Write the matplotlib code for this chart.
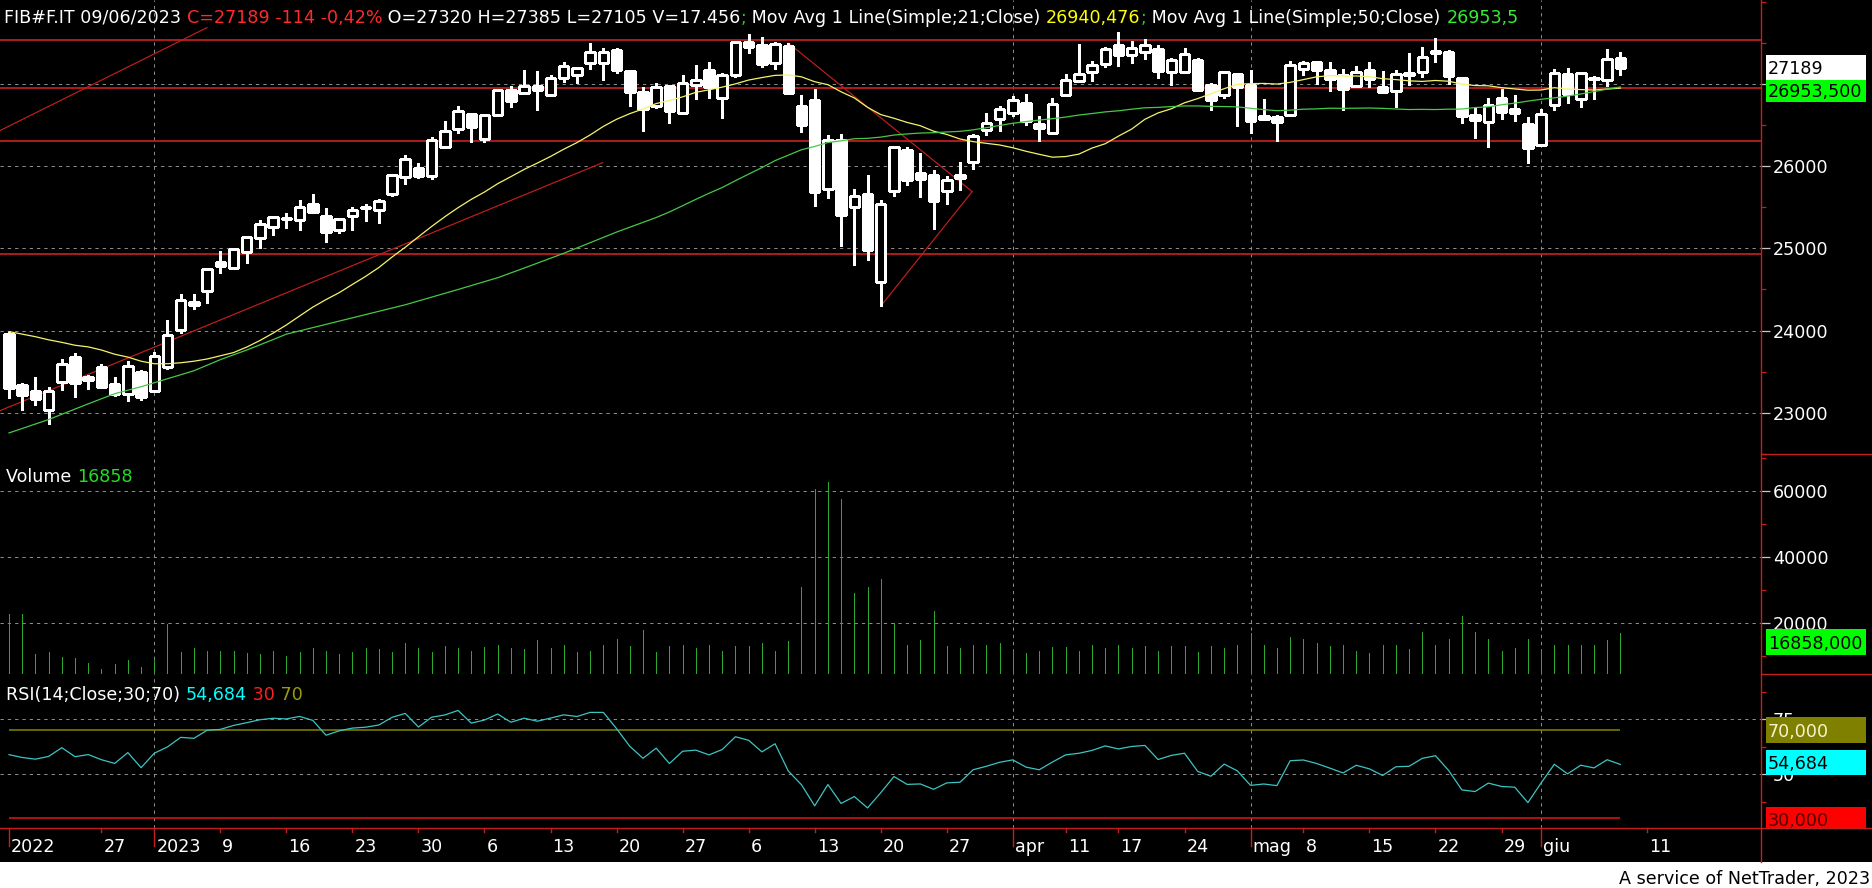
import numpy as np
import matplotlib
matplotlib.use("Agg")
import matplotlib.pyplot as plt
import matplotlib.transforms as mtransforms
from matplotlib.patches import Rectangle
from matplotlib.lines import Line2D
from matplotlib.font_manager import FontProperties

W, H, DPI = 1872, 888, 100
plt.rcParams["font.family"] = ["DejaVu Sans"]
FS = 12.6

# ---- FIB futures, daily sessions 15 Dec 2022 .. 9 Jun 2023 ----
opens = [23957, 23341, 23260, 23031, 23372, 23678, 23403, 23562, 23353, 23233,
         23492, 23267, 23558, 24008, 24314, 24485, 24830, 24767, 24961, 25124,
         25264, 25360, 25345, 25539, 25399, 25217, 25391, 25490, 25461, 25659,
         25868, 25981, 25884, 26229, 26450, 26628, 26333, 26616, 26919, 26891,
         26969, 26868, 27070, 27105, 27256, 27256, 27407, 27155, 26899, 26733,
         26969, 26647, 26988, 27167, 26833, 27112, 27504, 27469, 27256, 27457,
         26736, 26802, 25717, 26314, 25508, 25655, 24589, 25694, 26198, 25919,
         25891, 25698, 25888, 26047, 26434, 26570, 26640, 26767, 26516, 26407,
         26860, 27031, 27147, 27240, 27477, 27345, 27391, 27419, 27147, 27147,
         27291, 26988, 26868, 27116, 26988, 26609, 26593, 26616, 27182, 27267,
         27163, 27105, 26973, 27163, 26965, 26915, 27105, 27147, 27372, 27388,
         27070, 26620, 26535, 26829, 26690, 26516, 26252, 26744, 27116, 26814,
         27070, 27047, 27320]
highs = [23988, 23364, 23434, 23314, 23651, 23725, 23457, 23593, 23430, 23628,
         23527, 23736, 24124, 24442, 24446, 24760, 24965, 24992, 25140, 25341,
         25399, 25434, 25585, 25655, 25492, 25360, 25504, 25539, 25601, 25895,
         26132, 26039, 26353, 26550, 26736, 26640, 26616, 26930, 26969, 27167,
         27155, 27105, 27271, 27198, 27492, 27438, 27438, 27155, 26965, 27012,
         26977, 27105, 27225, 27260, 27132, 27523, 27609, 27574, 27504, 27496,
         26864, 26942, 26372, 26384, 25721, 25895, 25593, 26244, 26233, 26155,
         25953, 25880, 26047, 26384, 26640, 26725, 26849, 26876, 26609, 26826,
         27116, 27481, 27275, 27453, 27632, 27523, 27550, 27477, 27318, 27430,
         27314, 27012, 27155, 27132, 27167, 26814, 26624, 27283, 27283, 27283,
         27271, 27182, 27221, 27271, 27155, 27167, 27376, 27446, 27562, 27407,
         27070, 26705, 26829, 26942, 26864, 26597, 26694, 27178, 27190, 27128,
         27097, 27419, 27385]
lows = [23182, 23031, 23097, 22864, 23275, 23194, 23287, 23306, 23201, 23143,
        23159, 23267, 23531, 23977, 24264, 24333, 24705, 24752, 24818, 25004,
        25159, 25248, 25217, 25438, 25077, 25186, 25217, 25333, 25310, 25636,
        25787, 25857, 25845, 26217, 26403, 26287, 26287, 26616, 26717, 26872,
        26682, 26857, 27019, 27012, 27182, 27047, 27136, 26729, 26426, 26709,
        26523, 26647, 26810, 26833, 26585, 27078, 27380, 27205, 27182, 26880,
        26415, 25519, 25612, 25027, 24798, 24857, 24298, 25636, 25767, 25624,
        25240, 25535, 25709, 25965, 26380, 26426, 26605, 26496, 26310, 26407,
        26860, 27019, 27031, 27205, 27213, 27252, 27306, 27066, 26988, 27147,
        26926, 26682, 26833, 26484, 26407, 26578, 26302, 26605, 27112, 27000,
        26915, 26686, 26973, 26961, 26891, 26717, 26988, 27089, 27264, 27000,
        26523, 26345, 26229, 26570, 26543, 26043, 26240, 26682, 26764, 26717,
        26814, 26969, 27105]
closes = [23298, 23217, 23171, 23267, 23593, 23368, 23442, 23318, 23229, 23570,
          23194, 23690, 23942, 24372, 24349, 24744, 24787, 24992, 25140, 25302,
          25384, 25372, 25500, 25438, 25194, 25360, 25465, 25500, 25581, 25895,
          26081, 25880, 26314, 26430, 26674, 26473, 26616, 26919, 26787, 26977,
          26930, 27070, 27221, 27198, 27384, 27384, 27171, 26903, 26694, 26965,
          26667, 27012, 27047, 26957, 27105, 27512, 27450, 27240, 27488, 26891,
          26496, 25682, 26314, 25403, 25636, 24985, 25535, 26233, 25829, 25849,
          25578, 25833, 25857, 26368, 26519, 26694, 26798, 26554, 26465, 26756,
          27050, 27116, 27233, 27419, 27345, 27438, 27477, 27159, 27291, 27360,
          26926, 26798, 27140, 26965, 26543, 26578, 26531, 27233, 27256, 27171,
          27058, 26938, 27140, 27058, 26903, 27116, 27128, 27326, 27395, 27101,
          26612, 26566, 26744, 26659, 26640, 26217, 26628, 27128, 26872, 27128,
          27058, 27303, 27189]
volumes = [22700, 22700, 10400, 11100, 9700, 9300, 7900, 6100, 7500, 8600,
           6500, 9000, 19500, 11200, 12200, 11500, 11500, 11500, 10800, 10400,
           11500, 10000, 11200, 12200, 11500, 10400, 11200, 12200, 11900, 11200,
           14000, 12200, 11200, 13000, 12200, 11500, 12600, 13300, 12200, 11900,
           14800, 12200, 13300, 11200, 11500, 13300, 15100, 13000, 17700, 11200,
           13000, 13300, 12200, 13300, 11500, 13000, 13000, 13700, 11500, 14400,
           30700, 60400, 62500, 57500, 28900, 30700, 33200, 19800, 13300, 14800,
           23500, 13000, 12200, 13300, 13300, 14000, 11500, 10800, 11500, 12600,
           12600, 11500, 13300, 12200, 13300, 12200, 13000, 11500, 13000, 13000,
           11200, 13000, 12200, 13300, 16900, 13300, 12200, 15800, 15100, 14000,
           13000, 13300, 11500, 10800, 13300, 13300, 11900, 17300, 13300, 15100,
           22000, 17300, 15100, 11500, 12200, 15100, 11900, 13300, 13300, 13300,
           13300, 14800, 16858]

# moving averages over sessions that precede the first candle
ma21_head = [23988, 23957, 23926, 23888, 23857, 23822, 23802, 23764, 23713, 23678,
             23628, 23597, 23597, 23609, 23628, 23655, 23694, 23733, 23800, 23880]
ma50_head_idx = [0, 3, 6, 8, 10, 12, 14, 16, 18, 20, 21, 30, 34, 37, 39, 42, 43, 46]
ma50_head_val = [22756, 22919, 23110, 23233, 23318, 23415, 23512, 23647, 23764, 23891,
                 23957, 24314, 24500, 24643, 24760, 24940, 25004, 25198]
# Wilder averages (gain, loss) carried into the first session
rsi_seed = (165.0, 115.0)

# drawn studies
level_lines = [27535, 26953, 26302, 24930]
trend_lines = [((-0.68, 26432), (14.99, 27683)),
               ((-0.68, 23027), (44.95, 26042)),
               ((59, 27496), (72.92, 25690)),
               ((66, 24298), (72.92, 25690))]

# date axis: (session index, label, month/year marker)
date_ticks = [(0, "2022", True), (7, "27", False), (11, "2023", True), (16, "9", False),
              (21, "16", False), (26, "23", False), (31, "30", False), (36, "6", False),
              (41, "13", False), (46, "20", False), (51, "27", False), (56, "6", False),
              (61, "13", False), (66, "20", False), (71, "27", False), (76, "apr", True),
              (80, "11", False), (84, "17", False), (89, "24", False), (94, "mag", True),
              (98, "8", False), (103, "15", False), (108, "22", False), (113, "29", False),
              (116, "giu", True), (124, "11", False)]
month_grid = [11, 76, 94, 116]

price_ticks = [23000, 24000, 25000, 26000, 27000]
volume_ticks = [20000, 40000, 60000]
rsi_ticks = [50, 75]

RED = "#c41e1e"
GRID = "#8a8a8a"
WHITE = "white"

# ---- derived series ----
c = np.array(closes, float)
n = len(c)
xs = np.arange(n)

ma21 = np.empty(n)
ma21[:20] = ma21_head
for i in range(20, n):
    ma21[i] = c[i - 20:i + 1].mean()

ma50_x = list(ma50_head_idx) + list(range(49, n))
ma50_y = list(ma50_head_val) + [c[i - 49:i + 1].mean() for i in range(49, n)]

g, l = rsi_seed
rsi = np.empty(n)
rsi[0] = 100 - 100 / (1 + g / l)
for i in range(1, n):
    d = c[i] - c[i - 1]
    g = (g * 13 + max(d, 0)) / 14
    l = (l * 13 + max(-d, 0)) / 14
    rsi[i] = 100 - 100 / (1 + g / l)

# ---- figure layout (pixel boxes) ----
PLOT_RIGHT = 1761
STEP = 13.208
XMIN = -9 / STEP
XMAX = (PLOT_RIGHT - 9) / STEP
P_TOP, P_BOT = 0, 454
V_TOP, V_BOT = 454, 674
R_TOP, R_BOT = 674, 828.3
X_BOT = 862

fig = plt.figure(figsize=(W / DPI, H / DPI), dpi=DPI, facecolor="white")
ident = mtransforms.IdentityTransform()
fig.add_artist(Rectangle((0, H - X_BOT), W, X_BOT, transform=ident,
                         facecolor="black", edgecolor="none", zorder=-5))


def panel(top, bottom, ylim):
    ax = fig.add_axes([0, 1 - bottom / H, PLOT_RIGHT / W, (bottom - top) / H])
    ax.set_facecolor("black")
    for s in ax.spines.values():
        s.set_visible(False)
    ax.set_xlim(XMIN, XMAX)
    ax.set_ylim(*ylim)
    ax.tick_params(axis="x", which="both", bottom=False, labelbottom=False)
    ax.yaxis.tick_right()
    ax.tick_params(axis="y", which="major", direction="out", length=6.5, width=0.9,
                   color="#c8c8c8", labelcolor=WHITE, labelsize=FS, pad=1.9)
    ax.tick_params(axis="y", which="minor", direction="out", length=3.6, width=0.9,
                   color=RED)
    for k in month_grid:
        ax.axvline(k, color=GRID, lw=0.72, ls=(0, (3.3, 4)), zorder=0.5)
    return ax


ax_p = panel(P_TOP, P_BOT, (22760, 28019))
ax_v = panel(V_TOP, V_BOT, (4455, 71121))
ax_r = panel(R_TOP, R_BOT, (25.45, 95.6))

ax_p.set_yticks(price_ticks, labels=[str(t) for t in price_ticks])
ax_p.set_yticks([t + 500 for t in range(22000, 28000, 1000)] + [28000], minor=True)
ax_v.set_yticks(volume_ticks, labels=[str(t) for t in volume_ticks])
ax_v.set_yticks([10000, 30000, 50000, 70000], minor=True)
ax_r.set_yticks(rsi_ticks, labels=[str(t) for t in rsi_ticks])
ax_r.set_yticks([37.5, 62.5, 87.5], minor=True)
for ax, ticks in ((ax_p, price_ticks), (ax_v, volume_ticks), (ax_r, rsi_ticks)):
    for t in ticks:
        ax.axhline(t, color=GRID, lw=0.72, ls=(0, (3.3, 4)), zorder=0.5)

# ---- price panel ----
for lv in level_lines:
    ax_p.axhline(lv, color=RED, lw=1.25, zorder=1)
for (x0, y0), (x1, y1) in trend_lines:
    ax_p.plot([x0, x1], [y0, y1], color=RED, lw=0.85, zorder=1.2)

ax_p.vlines(xs, lows, highs, colors=WHITE, lw=0.75, zorder=3, antialiased=False)
BW = 0.72
for i in range(n):
    o, cl = opens[i], closes[i]
    up = cl >= o
    ax_p.add_patch(Rectangle((i - BW / 2, min(o, cl)), BW, max(abs(cl - o), 4),
                             facecolor="black" if up else WHITE, edgecolor=WHITE,
                             lw=0.75, zorder=4, antialiased=False))

ax_p.plot(xs, ma21, color="#f4f46a", lw=0.9, zorder=5)
ax_p.plot(ma50_x, ma50_y, color="#46c846", lw=0.9, zorder=5)

# ---- volume panel ----
ax_v.vlines(xs, 0, volumes, colors="#2ca82c", lw=0.72, zorder=3, antialiased=False)

# ---- RSI panel ----
ax_r.hlines(70, 0, n - 1, color="#7a7a00", lw=1.2, zorder=1)
ax_r.hlines(30, 0, n - 1, color="#d01414", lw=1.2, zorder=1)
ax_r.plot(xs, rsi, color="#3cc4c4", lw=0.9, zorder=3)

# ---- date axis ----
ax_x = fig.add_axes([0, 1 - X_BOT / H, PLOT_RIGHT / W, (X_BOT - R_BOT) / H])
ax_x.set_facecolor("black")
ax_x.set_axis_off()
ax_x.set_xlim(XMIN, XMAX)
ax_x.set_ylim(0, X_BOT - R_BOT)
lab_off = mtransforms.ScaledTranslation(2 / DPI, 0, fig.dpi_scale_trans)
for k, lab, major in date_ticks:
    depth = 18 if major else 3.5
    ax_x.plot([k, k], [X_BOT - R_BOT, X_BOT - R_BOT - depth], color=RED, lw=1.0,
              clip_on=False)
    ax_x.text(k, X_BOT - 851.5, lab, color=WHITE, fontsize=FS, ha="left",
              va="baseline", transform=ax_x.transData + lab_off)

# ---- axis frame lines ----
for xy in (([PLOT_RIGHT, PLOT_RIGHT], [H - X_BOT, H]),
           ([0, W], [H - R_BOT, H - R_BOT]),
           ([PLOT_RIGHT, W], [H - P_BOT, H - P_BOT]),
           ([PLOT_RIGHT, W], [H - V_BOT, H - V_BOT])):
    fig.add_artist(Line2D(xy[0], xy[1], transform=ident, color=RED, lw=1.0, zorder=4))

# ---- value boxes on the scale ----
def value_box(ax, value, text, fc, tc, shift=0.0, h=25, clip_bottom=None):
    yc = ax.transData.transform((0, value))[1] - shift
    y0 = yc - h / 2
    hh = h
    if clip_bottom is not None and y0 < clip_bottom:
        hh -= clip_bottom - y0
        y0 = clip_bottom
    fig.add_artist(Rectangle((1766, y0), 100, hh, transform=ident, facecolor=fc,
                             edgecolor="none", zorder=6))
    fig.text(1768 / W, (yc - 6.5) / H, text, color=tc, fontsize=FS, ha="left",
             va="baseline", zorder=7)


value_box(ax_p, closes[-1], f"{closes[-1]}", WHITE, "black", shift=-0.5)
value_box(ax_p, 26953.5, "26953,500", "#00ff00", "black", shift=3, h=22)
value_box(ax_v, volumes[-1], f"{volumes[-1]},000", "#00ff00", "black", shift=9, h=26)
value_box(ax_r, 70, "70,000", "#808000", "#f4f4d0", h=26)
value_box(ax_r, 54.684, "54,684", "#00ffff", "black", shift=-1.5, h=25)
value_box(ax_r, 30, "30,000", "#ff0000", "#500000", shift=1.5, h=25,
          clip_bottom=H - R_BOT)

# ---- coloured text runs ----
fp = FontProperties(family="DejaVu Sans", size=FS)
renderer = fig.canvas.get_renderer()


def text_run(x_px, base_px, pieces):
    wx = renderer.get_text_width_height_descent("x", fp, ismath=False)[0]
    prefix = ""
    for s, col in pieces:
        off = 0.0
        if prefix:
            off = renderer.get_text_width_height_descent(prefix + "x", fp, ismath=False)[0] - wx
        fig.text((x_px + off) / W, 1 - base_px / H, s, color=col, fontproperties=fp,
                 ha="left", va="baseline", zorder=8)
        prefix += s


chg = closes[-1] - closes[-2]
pct = chg / closes[-2] * 100
header = [
    ("FIB#F.IT 09/06/2023 ", WHITE),
    (f"C={closes[-1]} {chg} {pct:.2f}%".replace(".", ","), "#ff2a2a"),
    (f" O={opens[-1]} H={highs[-1]} L={lows[-1]} V=17.456", WHITE),
    (";", "#22cc22"),
    (" Mov Avg 1 Line(Simple;21;Close) ", WHITE),
    ("26940,476", "#ffff00"),
    (";", "#22cc22"),
    (" Mov Avg 1 Line(Simple;50;Close) ", WHITE),
    ("26953,5", "#33ee33"),
]
text_run(4, 23, header)
text_run(6, 481.5, [("Volume ", WHITE), (f"{volumes[-1]}", "#22dd22")])
text_run(6, 700.5, [("RSI(14;Close;30;70) ", WHITE), ("54,684", "#00ffff"),
                    (" 30", "#ff2020"), (" 70", "#9a9a10")])

fig.text(1870 / W, 1 - 884 / H, "A service of NetTrader, 2023", color="black",
         fontsize=FS, ha="right", va="baseline")

fig.savefig("out.png", dpi=DPI, facecolor=fig.get_facecolor())
